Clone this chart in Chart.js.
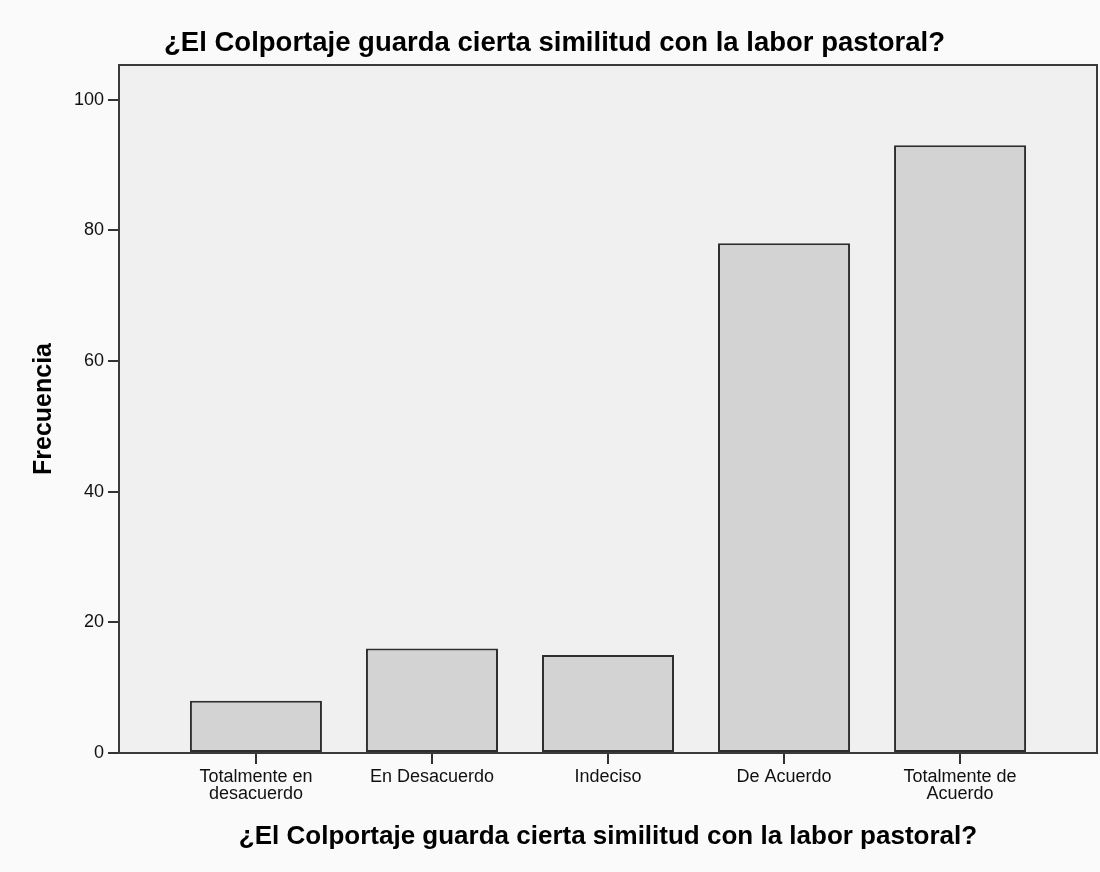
<!DOCTYPE html>
<html><head><meta charset="utf-8">
<script src="https://cdn.jsdelivr.net/npm/chart.js@4.4.0/dist/chart.umd.min.js"></script>
<style>html,body{margin:0;padding:0;background:#fafafa;} canvas{display:block;}</style>
</head><body>
<canvas id="c" width="1100" height="872"></canvas>
<script>
// ---- data ----
const categories = [["Totalmente en","desacuerdo"], "En Desacuerdo", "Indeciso", "De Acuerdo", ["Totalmente de","Acuerdo"]];
const frequencies = [8, 16, 15, 78, 93];
const yTicks = [0, 20, 40, 60, 80, 100];
const chartTitle = "¿El Colportaje guarda cierta similitud con la labor pastoral?";
const xAxisTitle = "¿El Colportaje guarda cierta similitud con la labor pastoral?";
const yAxisTitle = "Frecuencia";

const FONT = "'Liberation Sans', Arial, sans-serif";

const framePlugin = {
  id: 'frame',
  beforeDraw(chart) {
    const {ctx, chartArea: a} = chart;
    ctx.save();
    ctx.fillStyle = '#fafafa';
    ctx.fillRect(0, 0, chart.width, chart.height);
    ctx.fillStyle = '#f0f0f0';
    ctx.fillRect(a.left, a.top, a.right - a.left, a.bottom - a.top);
    ctx.restore();
  },
  afterDraw(chart) {
    const {ctx, chartArea: a} = chart;
    ctx.save();
    ctx.strokeStyle = '#3a3a3a';
    ctx.lineWidth = 2;
    ctx.strokeRect(a.left, a.top, a.right - a.left, a.bottom - a.top);
    ctx.restore();
  }
};

new Chart(document.getElementById('c'), {
  type: 'bar',
  data: {
    datasets: [{
      data: frequencies.map((v, i) => ({x: i, y: v})),
      backgroundColor: '#d3d3d3',
      borderColor: '#2e2e2e',
      borderWidth: 2,
      borderSkipped: false,
      categoryPercentage: 1,
      barPercentage: 0.75
    }]
  },
  options: {
    responsive: false,
    animation: false,
    layout: {padding: {left: 12, right: 3, top: 0, bottom: 0}},
    plugins: {
      legend: {display: false},
      tooltip: {enabled: false},
      title: {
        display: true,
        text: chartTitle,
        color: '#000',
        font: {family: FONT, size: 27.5, weight: 'bold', lineHeight: 1},
        padding: {top: 30, bottom: 7.5}
      }
    },
    scales: {
      x: {
        type: 'linear',
        offset: false,
        min: -0.778,
        max: 4.778,
        afterBuildTicks(scale) { scale.ticks = categories.map((_, i) => ({value: i})); },
        afterFit(scale) { scale.height = 119; },
        ticks: {
          color: '#111',
          font: {family: FONT, size: 18, lineHeight: 0.92},
          padding: 5,
          maxRotation: 0,
          autoSkip: false,
          callback: (v) => categories[v]
        },
        grid: {display: true, offset: false, drawOnChartArea: false, drawTicks: true, tickLength: 11, color: '#333', lineWidth: 2},
        border: {display: false},
        title: {
          display: true,
          text: xAxisTitle,
          color: '#000',
          font: {family: FONT, size: 26, weight: 'bold', lineHeight: 1},
          padding: {top: 0, bottom: 22}
        }
      },
      y: {
        min: 0,
        max: 105.3,
        afterBuildTicks(scale) { scale.ticks = yTicks.map(v => ({value: v})); },
        afterFit(scale) { scale.width = 107; },
        ticks: {
          color: '#111',
          font: {family: FONT, size: 18},
          padding: 4
        },
        grid: {display: true, drawOnChartArea: false, drawTicks: true, tickLength: 11, color: '#333', lineWidth: 2},
        border: {display: false},
        title: {
          display: true,
          text: yAxisTitle,
          color: '#000',
          font: {family: FONT, size: 25, weight: 'bold', lineHeight: 1},
          padding: {top: 19.5, bottom: 0}
        }
      }
    }
  },
  plugins: [framePlugin]
});
</script>
</body></html>
